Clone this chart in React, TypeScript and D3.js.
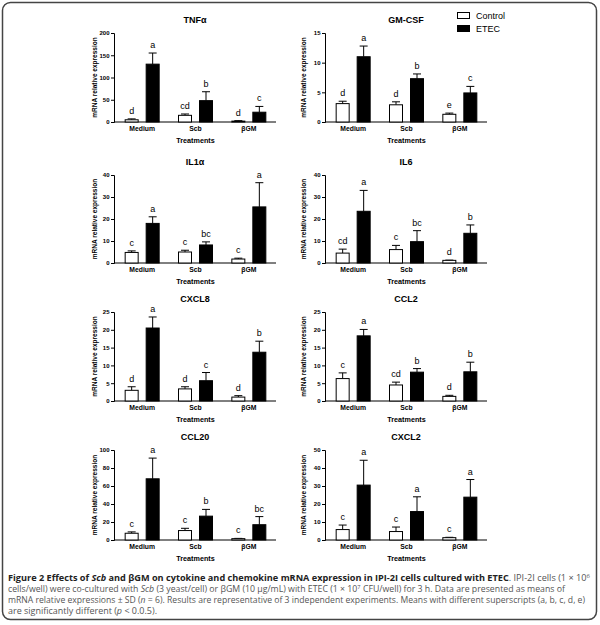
import React, { useEffect, useRef } from 'react';
import * as d3 from 'd3';

const categories = ['Medium', 'Scb', 'βGM'];
const seriesNames = ['Control', 'ETEC'];

// TNFα
const tnfTicks = [0, 50, 100, 150, 200];
const tnfControl = [5, 15, 2];
const tnfControlSd = [2, 3, 1];
const tnfEtec = [130, 48, 22];
const tnfEtecSd = [25, 20, 13];
const tnfLetters = [['d', 'a'], ['cd', 'b'], ['d', 'c']];

// GM-CSF
const gmTicks = [0, 5, 10, 15];
const gmControl = [3.1, 2.9, 1.3];
const gmControlSd = [0.4, 0.5, 0.2];
const gmEtec = [11, 7.3, 4.9];
const gmEtecSd = [1.8, 0.8, 1.1];
const gmLetters = [['d', 'a'], ['d', 'b'], ['e', 'c']];

// IL1α
const il1Ticks = [0, 10, 20, 30, 40];
const il1Control = [4.8, 5.0, 1.8];
const il1ControlSd = [0.7, 0.8, 0.4];
const il1Etec = [18, 8.2, 25.5];
const il1EtecSd = [3, 1.4, 11];
const il1Letters = [['c', 'a'], ['c', 'bc'], ['c', 'a']];

// IL6
const il6Ticks = [0, 10, 20, 30, 40];
const il6Control = [4.5, 6.1, 1.2];
const il6ControlSd = [1.8, 1.9, 0.1];
const il6Etec = [23.5, 9.7, 13.5];
const il6EtecSd = [9.5, 5, 3.8];
const il6Letters = [['cd', 'a'], ['c', 'bc'], ['d', 'b']];

// CXCL8
const cxcl8Ticks = [0, 5, 10, 15, 20, 25];
const cxcl8Control = [3.0, 3.4, 1.1];
const cxcl8ControlSd = [1.0, 0.6, 0.4];
const cxcl8Etec = [20.5, 5.7, 13.7];
const cxcl8EtecSd = [3.1, 2.3, 3.1];
const cxcl8Letters = [['d', 'a'], ['d', 'c'], ['d', 'b']];

// CCL2
const ccl2Ticks = [0, 5, 10, 15, 20, 25];
const ccl2Control = [6.3, 4.5, 1.3];
const ccl2ControlSd = [1.6, 0.8, 0.3];
const ccl2Etec = [18.3, 8.1, 8.2];
const ccl2EtecSd = [1.8, 1.0, 2.7];
const ccl2Letters = [['c', 'a'], ['cd', 'b'], ['d', 'b']];

// CCL20
const ccl20Ticks = [0, 20, 40, 60, 80, 100];
const ccl20Control = [7.5, 10.5, 1.5];
const ccl20ControlSd = [1.5, 2.5, 0.3];
const ccl20Etec = [68, 26.5, 17];
const ccl20EtecSd = [23, 7.5, 9];
const ccl20Letters = [['c', 'a'], ['c', 'b'], ['c', 'bc']];

// CXCL2
const cxcl2Ticks = [0, 10, 20, 30, 40, 50];
const cxcl2Control = [5.8, 4.7, 1.3];
const cxcl2ControlSd = [2.5, 2.5, 0.2];
const cxcl2Etec = [30.5, 15.8, 23.8];
const cxcl2EtecSd = [13.8, 8.2, 9.8];
const cxcl2Letters = [['c', 'a'], ['c', 'a'], ['c', 'a']];

const panels = [
  { title: 'TNFα', ticks: tnfTicks, control: tnfControl, controlSd: tnfControlSd, etec: tnfEtec, etecSd: tnfEtecSd, letters: tnfLetters },
  { title: 'GM-CSF', ticks: gmTicks, control: gmControl, controlSd: gmControlSd, etec: gmEtec, etecSd: gmEtecSd, letters: gmLetters },
  { title: 'IL1α', ticks: il1Ticks, control: il1Control, controlSd: il1ControlSd, etec: il1Etec, etecSd: il1EtecSd, letters: il1Letters },
  { title: 'IL6', ticks: il6Ticks, control: il6Control, controlSd: il6ControlSd, etec: il6Etec, etecSd: il6EtecSd, letters: il6Letters },
  { title: 'CXCL8', ticks: cxcl8Ticks, control: cxcl8Control, controlSd: cxcl8ControlSd, etec: cxcl8Etec, etecSd: cxcl8EtecSd, letters: cxcl8Letters },
  { title: 'CCL2', ticks: ccl2Ticks, control: ccl2Control, controlSd: ccl2ControlSd, etec: ccl2Etec, etecSd: ccl2EtecSd, letters: ccl2Letters },
  { title: 'CCL20', ticks: ccl20Ticks, control: ccl20Control, controlSd: ccl20ControlSd, etec: ccl20Etec, etecSd: ccl20EtecSd, letters: ccl20Letters },
  { title: 'CXCL2', ticks: cxcl2Ticks, control: cxcl2Control, controlSd: cxcl2ControlSd, etec: cxcl2Etec, etecSd: cxcl2EtecSd, letters: cxcl2Letters },
];

// layout
const colLeft = [114, 325];
const axisWidth = 162;
const rowTop = [33, 175, 312, 450];
const rowBottom = [122, 263, 401, 540];
const chartFont = '"Liberation Sans", Arial, sans-serif';
const captionFont = '"Open Sans", "Noto Sans", sans-serif';

export default function App() {
  const svgRef = useRef<SVGSVGElement>(null);

  useEffect(() => {
    if (!svgRef.current) return;
    const svg = d3.select(svgRef.current);
    svg.selectAll('*').remove();

    // frame
    svg.append('rect')
      .attr('x', 2.5).attr('y', 2.5)
      .attr('width', 594).attr('height', 617)
      .attr('rx', 8)
      .attr('fill', 'white')
      .attr('stroke', '#444')
      .attr('stroke-width', 1.5);

    panels.forEach((p, i) => {
      const col = i % 2;
      const row = Math.floor(i / 2);
      const x0 = colLeft[col];
      const y0 = rowBottom[row];
      const y1 = rowTop[row];
      const g = svg.append('g').style('font-family', chartFont);

      const y = d3.scaleLinear().domain([0, d3.max(p.ticks) as number]).range([y0, y1]);
      const x = d3.scaleBand().domain(categories).range([x0 + 1.5, x0 + axisWidth - 0.5]);
      const inner = d3.scaleBand().domain(seriesNames).range([-17, 17]).paddingInner(8 / 21);

      // title
      g.append('text')
        .attr('x', x0 + axisWidth / 2)
        .attr('y', y1 - 10)
        .attr('text-anchor', 'middle')
        .style('font-size', '9px')
        .style('font-weight', 'bold')
        .text(p.title);

      // Y axis
      const yAxis = g.append('g')
        .attr('transform', `translate(${x0},0)`)
        .call(d3.axisLeft(y).tickValues(p.ticks).tickSize(3).tickPadding(1.5).tickFormat(d3.format('d')));
      yAxis.select('.domain').attr('stroke', '#000').attr('stroke-width', 1);
      yAxis.selectAll('.tick line').attr('stroke', '#000');
      yAxis.selectAll('.tick text')
        .attr('fill', '#000')
        .style('font-size', '6px')
        .style('font-weight', 'bold')
        .style('font-family', chartFont);

      // X axis line
      g.append('line')
        .attr('x1', x0).attr('x2', x0 + axisWidth)
        .attr('y1', y0).attr('y2', y0)
        .attr('stroke', '#000').attr('stroke-width', 1);

      // Y label
      g.append('text')
        .attr('transform', `translate(${x0 - 17 - col * 2},${(y0 + y1) / 2}) rotate(-90)`)
        .attr('text-anchor', 'middle')
        .style('font-size', '6.5px')
        .style('font-weight', 'bold')
        .text('mRNA relative expression');

      // category labels
      categories.forEach((c) => {
        g.append('text')
          .attr('x', (x(c) as number) + x.bandwidth() / 2)
          .attr('y', y0 + 8.5)
          .attr('text-anchor', 'middle')
          .style('font-size', '6.8px')
          .style('font-weight', 'bold')
          .text(c);
      });
      g.append('text')
        .attr('x', (x('Scb') as number) + x.bandwidth() / 2)
        .attr('y', y0 + 20.5)
        .attr('text-anchor', 'middle')
        .style('font-size', '7.2px')
        .style('font-weight', 'bold')
        .text('Treatments');

      const rows = categories.flatMap((c, ci) => [
        { c, s: 'Control', v: p.control[ci], sd: p.controlSd[ci], letter: p.letters[ci][0] },
        { c, s: 'ETEC', v: p.etec[ci], sd: p.etecSd[ci], letter: p.letters[ci][1] },
      ]);

      const cx = (d: { c: string; s: string }) =>
        (x(d.c) as number) + x.bandwidth() / 2 + (inner(d.s) as number);
      const bw = inner.bandwidth();

      // error bars
      rows.forEach((d) => {
        const mid = cx(d) + bw / 2;
        g.append('line')
          .attr('x1', mid).attr('x2', mid)
          .attr('y1', y(d.v)).attr('y2', y(d.v + d.sd))
          .attr('stroke', '#000').attr('stroke-width', 1);
        g.append('line')
          .attr('x1', mid - 4).attr('x2', mid + 4)
          .attr('y1', y(d.v + d.sd)).attr('y2', y(d.v + d.sd))
          .attr('stroke', '#000').attr('stroke-width', 1);
      });

      // bars
      g.selectAll('rect.bar')
        .data(rows)
        .enter()
        .append('rect')
        .attr('class', 'bar')
        .attr('x', (d) => cx(d))
        .attr('y', (d) => y(d.v))
        .attr('width', bw)
        .attr('height', (d) => y(0) - y(d.v))
        .attr('fill', (d) => (d.s === 'Control' ? '#fff' : '#000'))
        .attr('stroke', '#000')
        .attr('stroke-width', 1);

      // letters
      g.selectAll('text.letter')
        .data(rows)
        .enter()
        .append('text')
        .attr('class', 'letter')
        .attr('x', (d) => cx(d) + bw / 2)
        .attr('y', (d) => y(d.v + d.sd) - 5)
        .attr('text-anchor', 'middle')
        .style('font-size', '9px')
        .text((d) => d.letter);
    });

    // legend
    const legend = svg.append('g').style('font-family', chartFont);
    seriesNames.forEach((s, i) => {
      legend.append('rect')
        .attr('x', 457.5).attr('y', 12.5 + i * 13)
        .attr('width', 12).attr('height', 6)
        .attr('fill', i === 0 ? '#fff' : '#000')
        .attr('stroke', '#000').attr('stroke-width', 1);
      legend.append('text')
        .attr('x', 476).attr('y', 18.5 + i * 13)
        .style('font-size', '9px')
        .text(s);
    });

    // caption
    const cap = svg.append('g').style('font-family', captionFont).style('font-size', '8.4px');
    const l1 = cap.append('text').attr('x', 8).attr('y', 581).attr('textLength', 582).attr('lengthAdjust', 'spacingAndGlyphs');
    l1.append('tspan').attr('font-weight', 'bold').attr('fill', '#222').text('Figure 2 Effects of ');
    l1.append('tspan').attr('font-weight', 'bold').attr('font-style', 'italic').attr('fill', '#222').text('Scb');
    l1.append('tspan').attr('font-weight', 'bold').attr('fill', '#222').text(' and βGM on cytokine and chemokine mRNA expression in IPI-2I cells cultured with ETEC');
    l1.append('tspan').attr('fill', '#555').text('. IPI-2I cells (1 × 10');
    l1.append('tspan').attr('fill', '#555').attr('dy', -3).style('font-size', '5.5px').text('6');

    const l2 = cap.append('text').attr('x', 8).attr('y', 592).attr('textLength', 557).attr('lengthAdjust', 'spacingAndGlyphs').attr('fill', '#555');
    l2.append('tspan').text('cells/well) were co-cultured with ');
    l2.append('tspan').attr('font-style', 'italic').text('Scb');
    l2.append('tspan').text(' (3 yeast/cell) or βGM (10 μg/mL) with ETEC (1 × 10');
    l2.append('tspan').attr('dy', -3).style('font-size', '5.5px').text('7');
    l2.append('tspan').attr('dy', 3).text(' CFU/well) for 3 h. Data are presented as means of');

    const l3 = cap.append('text').attr('x', 8).attr('y', 603).attr('textLength', 577).attr('lengthAdjust', 'spacingAndGlyphs').attr('fill', '#555');
    l3.append('tspan').text('mRNA relative expressions ± SD (');
    l3.append('tspan').attr('font-style', 'italic').text('n');
    l3.append('tspan').text(' = 6). Results are representative of 3 independent experiments. Means with different superscripts (a, b, c, d, e)');

    const l4 = cap.append('text').attr('x', 8).attr('y', 614).attr('textLength', 149).attr('lengthAdjust', 'spacingAndGlyphs').attr('fill', '#555');
    l4.append('tspan').text('are significantly different (');
    l4.append('tspan').attr('font-style', 'italic').text('p');
    l4.append('tspan').text(' < 0.0.5).');
  }, []);

  return (
    <svg
      ref={svgRef}
      width={600}
      height={625}
      style={{ position: 'absolute', left: 0, top: 0, background: '#fff' }}
    />
  );
}
